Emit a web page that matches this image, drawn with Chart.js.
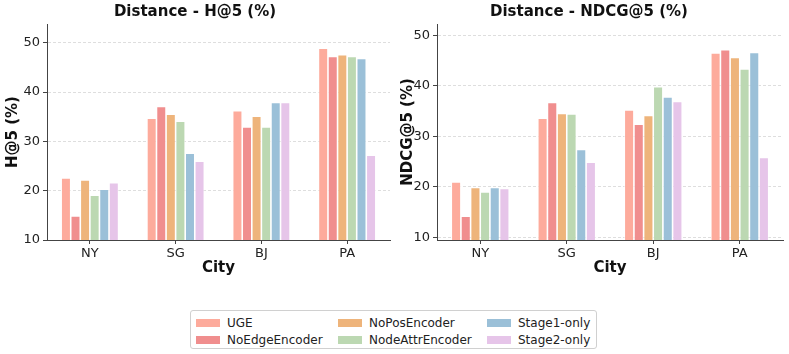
<!DOCTYPE html>
<html>
<head>
<meta charset="utf-8">
<script src="https://cdn.jsdelivr.net/npm/chart.js@4.4.1/dist/chart.umd.min.js"></script>
<style>
  body { margin: 0; background: #fff; font-family: 'DejaVu Sans', sans-serif; }
  #wrap { position: relative; width: 789px; height: 354px; }
  .box { position: absolute; top: 0; height: 285px; }
  #legend {
    position: absolute; left: 190px; top: 310px; width: 407px; height: 39px;
    border: 1px solid #d0d0d0; border-radius: 3px; box-sizing: border-box;
    display: flex; padding: 3px 0 0 5px; font-size: 12px; color: #222; white-space: nowrap;
  }
  .col { display: flex; flex-direction: column; flex-shrink: 0; }
  .item { display: flex; align-items: center; height: 17px; }
  .sw { width: 24px; height: 8px; margin-right: 7px; }
</style>
</head>
<body>
<div id="wrap">
  <div class="box" style="left:0;width:395px"><canvas id="hitChart"></canvas></div>
  <div class="box" style="left:395px;width:394px"><canvas id="ndcgChart"></canvas></div>
  <div id="legend"></div>
</div>
<script>
const cities = ['NY', 'SG', 'BJ', 'PA'];
const variants = ['UGE', 'NoEdgeEncoder', 'NoPosEncoder', 'NodeAttrEncoder', 'Stage1-only', 'Stage2-only'];
const colors = ['#fdab9c', '#f08e8e', '#eeb47b', '#bcd8b2', '#9bc0d8', '#e6c5e9'];
const yTicks = [10, 20, 30, 40, 50];

// H@5 (%) per variant, in city order
const hitUGE = [22.6, 34.7, 36.2, 48.9];
const hitNoEdge = [14.9, 37.1, 32.9, 47.2];
const hitNoPos = [22.2, 35.5, 35.1, 47.6];
const hitNodeAttr = [19.1, 34.1, 32.9, 47.2];
const hitStage1 = [20.3, 27.6, 37.9, 46.8];
const hitStage2 = [21.6, 26.0, 37.9, 27.2];

// NDCG@5 (%) per variant
const ndcgUGE = [21.0, 33.6, 35.2, 46.5];
const ndcgNoEdge = [14.2, 36.7, 32.4, 47.1];
const ndcgNoPos = [19.9, 34.5, 34.1, 45.6];
const ndcgNodeAttr = [19.0, 34.4, 39.8, 43.3];
const ndcgStage1 = [19.9, 27.4, 37.8, 46.6];
const ndcgStage2 = [19.7, 24.9, 36.9, 25.8];

const hitSeries = [hitUGE, hitNoEdge, hitNoPos, hitNodeAttr, hitStage1, hitStage2];
const ndcgSeries = [ndcgUGE, ndcgNoEdge, ndcgNoPos, ndcgNodeAttr, ndcgStage1, ndcgStage2];

const FONT = "'DejaVu Sans', sans-serif";
Chart.defaults.font.family = FONT;
Chart.defaults.color = '#222';

function makeChart(id, title, yLabel, series, yMin, yMax, yWidth, padRight) {
    const ctx = document.getElementById(id).getContext('2d');
    return new Chart(ctx, {
        type: 'bar',
        data: {
            labels: cities,
            datasets: series.map((vals, i) => ({
                label: variants[i],
                data: vals,
                backgroundColor: colors[i],
                borderColor: '#ffffff',
                borderWidth: 0.8,
                categoryPercentage: 0.67,
                barPercentage: 1.0
            }))
        },
        options: {
            responsive: true,
            maintainAspectRatio: false,
            animation: false,
            layout: { padding: { left: 0, right: padRight, top: 0, bottom: 5 } },
            plugins: {
                legend: { display: false },
                tooltip: { enabled: false },
                title: {
                    display: true,
                    text: title,
                    font: { size: 15, weight: 'bold' },
                    color: '#111',
                    padding: { top: 3, bottom: 3 }
                }
            },
            scales: {
                x: {
                    grid: { drawOnChartArea: false, offset: false, tickColor: '#444', tickLength: 4 },
                    border: { color: '#444', width: 1 },
                    ticks: { font: { size: 13 }, color: '#222', padding: 2 },
                    title: { display: true, text: 'City', font: { size: 15, weight: 'bold' }, color: '#111', padding: { top: 0, bottom: 3 } },
                    afterFit(scale) { scale.height = 40; }
                },
                y: {
                    min: yMin,
                    max: yMax,
                    afterBuildTicks(scale) {
                        scale.ticks = yTicks.map(v => ({ value: v }));
                    },
                    grid: { color: '#dedede', tickColor: '#444', tickLength: 4 },
                    border: { color: '#444', width: 1, dash: [3, 2] },
                    ticks: { font: { size: 13 }, color: '#222', padding: 3 },
                    title: { display: true, text: yLabel, font: { size: 15, weight: 'bold' }, color: '#111', padding: { top: 4, bottom: 0 } },
                    afterFit(scale) { scale.width = yWidth; }
                }
            }
        }
    });
}

makeChart('hitChart', 'Distance - H@5 (%)', 'H@5 (%)', hitSeries, 10, 53.8, 47, 5);
makeChart('ndcgChart', 'Distance - NDCG@5 (%)', 'NDCG@5 (%)', ndcgSeries, 9.5, 52.2, 42, 6);

// Legend laid out column-first like the original
const legend = document.getElementById('legend');
const colWidths = [142, 149, 108];
for (let c = 0; c < 3; c++) {
    const col = document.createElement('div');
    col.className = 'col';
    col.style.width = colWidths[c] + 'px';
    for (let r = 0; r < 2; r++) {
        const i = c * 2 + r;
        const item = document.createElement('div');
        item.className = 'item';
        item.innerHTML = `<span class="sw" style="background:${colors[i]}"></span><span>${variants[i]}</span>`;
        col.appendChild(item);
    }
    legend.appendChild(col);
}
</script>
</body>
</html>
